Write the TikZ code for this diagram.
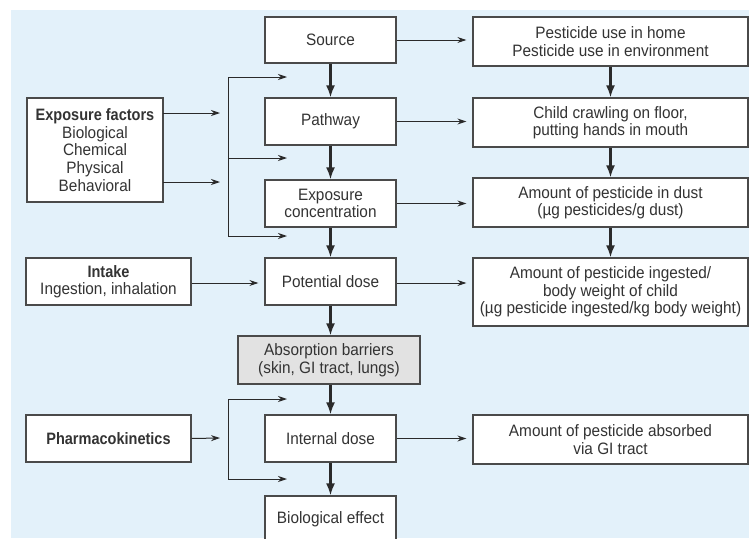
\documentclass[tikz,border=0pt]{standalone}
\usepackage{fontspec}
\setmainfont{Liberation Sans}[FakeStretch=0.93, BoldFeatures={FakeStretch=0.88}]
\usetikzlibrary{arrows.meta}
\definecolor{bgblue}{HTML}{E3F1FA}
\definecolor{boxline}{HTML}{4A4A4A}
\definecolor{txt}{HTML}{333333}
\definecolor{arr}{HTML}{2A2A2A}
\definecolor{grayfill}{HTML}{E2E2E2}
\tikzset{
  box/.style={draw=boxline, line width=1.2pt, fill=white, align=center,
    font=\fontsize{16.5}{17.5}\selectfont, text=txt, inner sep=0pt, minimum height=47pt},
  mainbox/.style={box, minimum width=131pt},
  rightbox/.style={box, minimum width=275pt},
  harrow/.style={draw=arr, line width=1pt, -{Stealth[length=9pt,width=6pt]}},
  varrow/.style={draw=arr, line width=2.2pt, -{Latex[length=12pt,width=9pt]}},
  plainline/.style={draw=arr, line width=1pt},
}
\begin{document}
\begin{tikzpicture}[x=1pt,y=-1pt]
\useasboundingbox (0,0) rectangle (749,538);
\clip (0,0) rectangle (749,538);
\fill[bgblue] (11,10) rectangle (749,538);

% main column
\node[mainbox, minimum height=46pt] (src) at (330.5,40) {Source};
\node[mainbox] (path) at (330.5,121.5) {Pathway};
\node[mainbox] (expc) at (330.5,203.5) {Exposure\\concentration};
\node[mainbox] (pot) at (330.5,281.5) {Potential dose};
\node[box, fill=grayfill, minimum width=182pt, minimum height=48pt] (abs) at (329,360) {Absorption barriers\\(skin, GI tract, lungs)};
\node[mainbox] (intd) at (330.5,438.5) {Internal dose};
\node[mainbox] (bio) at (330.5,519.5) {Biological effect};

% right column
\node[rightbox, minimum height=49pt] (r1) at (610.5,41.5) {Pesticide use in home\\Pesticide use in environment};
\node[rightbox, minimum height=49pt] (r2) at (610.5,122.5) {Child crawling on floor,\\putting hands in mouth};
\node[rightbox, minimum height=49pt] (r3) at (610.5,202.5) {Amount of pesticide in dust\\(µg pesticides/g dust)};
\node[rightbox, minimum height=68pt] (r4) at (610.5,292) {Amount of pesticide ingested/\\body weight of child\\(µg pesticide ingested/kg body weight)};
\node[rightbox, minimum height=49pt] (r5) at (610.5,439.5) {Amount of pesticide absorbed\\via GI tract};

% left column
\node[box, minimum width=136pt, minimum height=104pt, font=\fontsize{16.5}{17.8}\selectfont] (ef) at (95,150) {\textbf{Exposure factors}\\Biological\\Chemical\\Physical\\Behavioral};
\node[box, minimum width=165pt] (intake) at (108.5,281.5) {\textbf{Intake}\\Ingestion, inhalation};
\node[box, minimum width=165pt] (pk) at (108.5,438.5) {\textbf{Pharmacokinetics}};

% main vertical arrows
\draw[varrow] (src.south) -- (path.north);
\draw[varrow] (path.south) -- (expc.north);
\draw[varrow] (expc.south) -- (pot.north);
\draw[varrow] (pot.south) -- (abs.north -| pot.south);
\draw[varrow] (abs.south -| intd.north) -- (intd.north);
\draw[varrow] (intd.south) -- (bio.north);

% right vertical arrows
\draw[varrow] (r1.south) -- (r2.north);
\draw[varrow] (r2.south) -- (r3.north);
\draw[varrow] (r3.south) -- (r4.north);

% horizontal arrows to right column
\draw[harrow, shorten >=6pt] (src.east) -- (src.east -| r1.west);
\draw[harrow, shorten >=6pt] (path.east) -- (path.east -| r2.west);
\draw[harrow, shorten >=6pt] (expc.east) -- (expc.east -| r3.west);
\draw[harrow, shorten >=6pt] ([yshift=-1.5pt]pot.east) -- ([yshift=-1.5pt]pot.east -| r4.west);
\draw[harrow, shorten >=6pt] (intd.east) -- (intd.east -| r5.west);

% intake
\draw[harrow, shorten >=6pt] ([yshift=-1.5pt]intake.east) -- ([yshift=-1.5pt]intake.east -| pot.west);

% exposure factors feedback
\coordinate (efa) at (163,113);
\coordinate (efb) at (163,182);
\coordinate (efae) at (220,113);
\coordinate (efbe) at (220,182);
\coordinate (ja) at (228,77);
\coordinate (jm) at (228,158);
\coordinate (jb) at (228,236);
\coordinate (ea) at (287,77);
\coordinate (em) at (287,158);
\coordinate (eb) at (287,236);
\draw[harrow] (efa) -- (efae);
\draw[harrow] (efb) -- (efbe);
\draw[plainline] (ja) -- (jb);
\draw[harrow] (ja) -- (ea);
\draw[harrow] (jm) -- (em);
\draw[harrow] (jb) -- (eb);

% pharmacokinetics feedback
\coordinate (pke) at (220,438);
\coordinate (pa) at (228,399);
\coordinate (pb) at (228,479);
\coordinate (pae) at (287,399);
\coordinate (pbe) at (287,479);
\draw[harrow] (pk.east) -- (pke);
\draw[plainline] (pa) -- (pb);
\draw[harrow] (pa) -- (pae);
\draw[harrow] (pb) -- (pbe);
\end{tikzpicture}
\end{document}
